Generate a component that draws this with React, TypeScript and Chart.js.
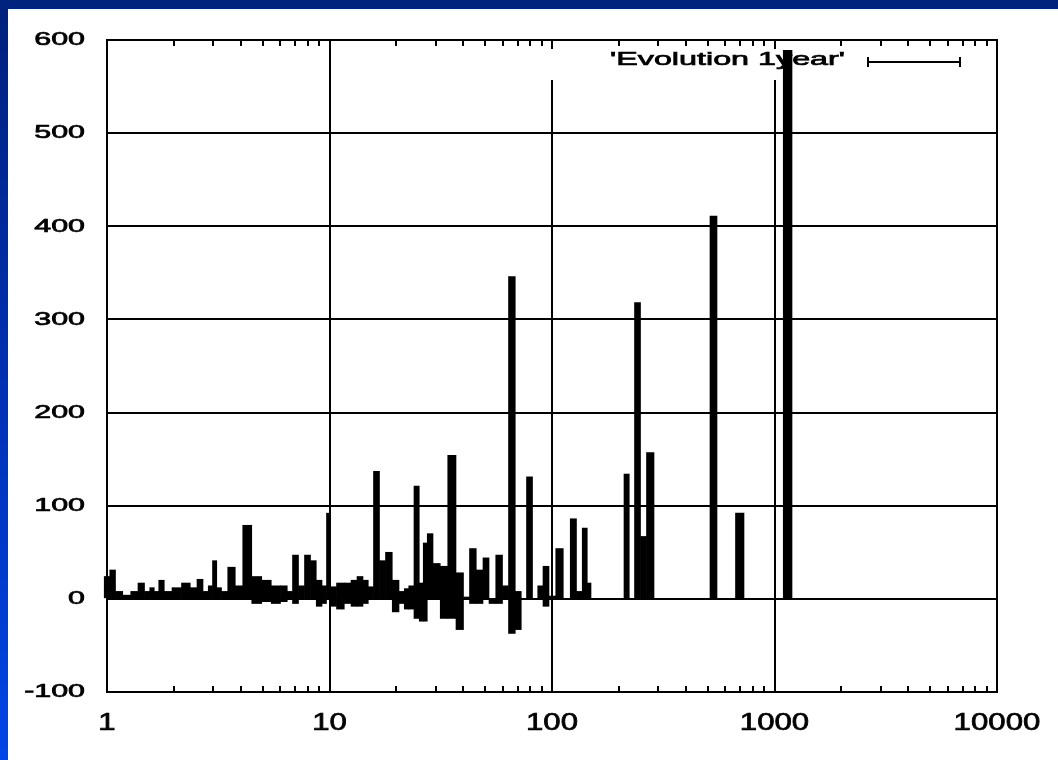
import React, { useEffect, useRef } from "react";
import { Chart, registerables } from "chart.js";

Chart.register(...registerables);

// Bin centres on the logarithmic axis
const binX = [
  1.0, 1.059, 1.126, 1.23, 1.329, 1.429, 1.521, 1.593, 1.669, 1.749,
  1.87, 2.053, 2.277, 2.46, 2.618, 2.786, 2.919, 3.042, 3.187, 3.356,
  3.627, 3.92, 4.236, 4.722, 5.21, 5.748, 6.31, 6.611, 7.034, 7.485,
  7.964, 8.475, 8.971, 9.545, 9.846, 10.32, 11.21, 12.11, 12.89, 13.71,
  14.59, 15.29, 16.26, 17.31, 18.42, 19.9, 21.18, 22.19, 23.24, 24.73,
  25.91, 26.87, 28.15, 30.26, 32.71, 35.34, 38.79, 41.28, 43.93, 47.47,
  50.51, 53.75, 58.08, 61.81, 65.77, 71.07, 74.46, 79.24, 84.31, 88.32,
  93.98, 100.0, 108.1, 116.8, 124.9, 132.9, 140.7, 147.4, 152.1, 164.3,
  176.7, 190.0, 204.2, 217.3, 227.7, 242.3, 257.8, 274.3, 301.1, 325.4,
  353.4, 384.0, 417.1, 453.1, 492.2, 534.7, 568.9, 605.4, 640.8, 696.1,
  764.1, 825.7, 897.1, 974.5, 1048, 1144, 1256,
];

// Upward evolution per bin
const gains = [
  24, 31, 8, 4, 8, 17, 8, 12, 8, 20,
  8, 12, 17, 12, 21, 8, 14, 41, 12, 8,
  34, 14, 79, 24, 20, 14, 14, 8, 47, 14,
  47, 41, 20, 14, 92, 13, 17, 17, 20, 24,
  20, 13, 137, 41, 50, 20, 8, 11, 14, 121,
  17, 60, 70, 38, 35, 154, 28, 2, 54, 31,
  44, 0, 47, 14, 346, 8, 0, 131, 0, 14,
  35, 3, 54, 0, 86, 8, 76, 17, 0, 0,
  0, 0, 0, 134, 0, 318, 67, 157, 0, 0,
  0, 0, 0, 0, 0, 411, 0, 0, 0, 92,
  0, 0, 0, 0, 0, 589, 0,
];

// Downward evolution per bin
const losses = [
  0, 0, 0, 0, 0, 0, 0, 0, 0, 0,
  0, 0, 0, 0, 0, 0, 0, 0, 0, 0,
  0, 0, 0, -5, -3, -5, -3, 0, -5, 0,
  0, 0, -8, -5, 0, -8, -11, -5, -8, -8,
  -5, 0, 0, 0, 0, -14, -5, -11, -11, -21,
  -24, -24, 0, 0, -21, -21, -33, 0, -5, -5,
  0, -5, -5, 0, -37, -33, 0, 0, 0, 0,
  -8, 0, 0, 0, 0, 0, 0, 0, 0, 0,
  0, 0, 0, 0, 0, 0, 0, 0, 0, 0,
  0, 0, 0, 0, 0, 0, 0, 0, 0, 0,
  0, 0, 0, 0, 0, 0, 0,
];

const seriesLabel = "'Evolution 1year'";
const xMin = 1;
const xMax = 10000;
const yMin = -100;
const yMax = 600;
const yStep = 100;

const FONT = '"Liberation Sans", Arial, Helvetica, sans-serif';

const isDecade = (v: number) => {
  const l = Math.log10(v);
  return Math.abs(l - Math.round(l)) < 1e-6;
};
const isWholeMantissa = (v: number) => {
  const m = v / Math.pow(10, Math.floor(Math.log10(v) + 1e-9));
  return Math.abs(m - Math.round(m)) < 1e-6;
};

// Text drawn with a horizontal stretch, like the wide bitmap font of the plot
function stretchedText(
  ctx: CanvasRenderingContext2D,
  text: string,
  x: number,
  y: number,
  size: number,
  sx: number,
  align: CanvasTextAlign
) {
  ctx.save();
  ctx.translate(x, y);
  ctx.scale(sx, 1);
  ctx.font = `${size}px ${FONT}`;
  ctx.fillStyle = "#000";
  ctx.strokeStyle = "#000";
  ctx.lineWidth = 0.7;
  ctx.textAlign = align;
  ctx.textBaseline = "middle";
  ctx.fillText(text, 0, 0);
  ctx.strokeText(text, 0, 0);
  ctx.restore();
}

const gnuplotDecor = {
  id: "gnuplotDecor",
  beforeDatasetsDraw(chart: any) {
    const { ctx, chartArea: a } = chart;
    // the key area keeps the grid out
    ctx.save();
    ctx.fillStyle = "#fff";
    ctx.fillRect(a.right - 452, a.top + 1, 444, 39);
    ctx.restore();
  },
  afterDatasetsDraw(chart: any) {
    const { ctx, chartArea: a } = chart;
    const xs = chart.scales.x;
    const ys = chart.scales.y;

    ctx.save();
    ctx.strokeStyle = "#000";
    ctx.lineWidth = 2;
    ctx.strokeRect(a.left, a.top, a.right - a.left, a.bottom - a.top);

    // inward tick marks on the top and bottom borders
    ctx.beginPath();
    for (const t of xs.ticks) {
      const v = t.value;
      if (v <= xMin || v >= xMax || !isWholeMantissa(v)) continue;
      const px = Math.round(xs.getPixelForValue(v));
      const len = isDecade(v) ? 9 : 6;
      ctx.moveTo(px, a.top);
      ctx.lineTo(px, a.top + len);
      ctx.moveTo(px, a.bottom);
      ctx.lineTo(px, a.bottom - len);
    }
    ctx.stroke();
    ctx.restore();

    // tick labels
    for (const t of xs.ticks) {
      if (!isDecade(t.value)) continue;
      const px = xs.getPixelForValue(t.value);
      stretchedText(ctx, String(t.value), px, a.bottom + 31, 24, 1.3, "center");
    }
    for (const t of ys.ticks) {
      const py = ys.getPixelForValue(t.value);
      stretchedText(ctx, String(t.value), a.left - 22, py, 19, 1.6, "right");
    }

    // key
    stretchedText(ctx, seriesLabel, a.right - 152, a.top + 20, 19, 1.7, "right");
    const x0 = a.right - 129;
    const x1 = a.right - 37;
    const ky = a.top + 22;
    ctx.save();
    ctx.strokeStyle = "#000";
    ctx.lineWidth = 2;
    ctx.beginPath();
    ctx.moveTo(x0, ky);
    ctx.lineTo(x1, ky);
    ctx.moveTo(x0, ky - 5);
    ctx.lineTo(x0, ky + 5);
    ctx.moveTo(x1, ky - 5);
    ctx.lineTo(x1, ky + 5);
    ctx.stroke();
    ctx.restore();
  },
};

export default function App() {
  const ref = useRef<HTMLCanvasElement>(null);

  useEffect(() => {
    document.body.style.margin = "0";
    const points = binX.map((x, i) => ({
      x,
      y: losses[i] < 0 ? [losses[i], gains[i]] : gains[i],
    }));

    const chart = new Chart(ref.current as HTMLCanvasElement, {
      type: "bar",
      data: {
        datasets: [
          {
            label: seriesLabel,
            data: points as any,
            backgroundColor: "#000",
            borderWidth: 0,
            barThickness: "flex",
            barPercentage: 1,
            categoryPercentage: 1,
            clip: false as any,
          },
        ],
      },
      options: {
        responsive: false,
        animation: false,
        layout: { padding: { left: 0, top: 31, right: 61, bottom: 0 } },
        plugins: {
          legend: { display: false },
          tooltip: { enabled: false },
        },
        scales: {
          x: {
            type: "logarithmic",
            min: xMin,
            max: xMax,
            offset: false,
            grid: {
              offset: false,
              drawTicks: false,
              lineWidth: 2,
              color: (c: any) =>
                c.tick && isDecade(c.tick.value) ? "#000" : "rgba(0,0,0,0)",
            },
            border: { display: true, color: "#000", width: 2 },
            ticks: { display: false, autoSkip: false },
            afterFit: (s: any) => {
              s.height = 68;
            },
          },
          y: {
            type: "linear",
            min: yMin,
            max: yMax,
            grid: { drawTicks: false, lineWidth: 2, color: "#000" },
            border: { display: true, color: "#000", width: 2 },
            ticks: { display: false, stepSize: yStep },
            afterFit: (s: any) => {
              s.width = 99;
            },
          },
        },
      },
      plugins: [gnuplotDecor],
    });
    return () => chart.destroy();
  }, []);

  return (
    <div
      style={{
        position: "relative",
        width: 1058,
        height: 760,
        overflow: "hidden",
        background: "linear-gradient(180deg, #00217c 0%, #0032b8 55%, #0046e6 100%)",
      }}
    >
      <div
        style={{
          position: "absolute",
          left: 0,
          top: 0,
          width: 1058,
          height: 9,
          background: "#00237e",
        }}
      />
      <div
        style={{
          position: "absolute",
          left: 8,
          top: 9,
          width: 1050,
          height: 751,
          background: "#fff",
        }}
      >
        <canvas
          ref={ref}
          width={1050}
          height={751}
          style={{ display: "block", width: 1050, height: 751 }}
        />
      </div>
    </div>
  );
}
